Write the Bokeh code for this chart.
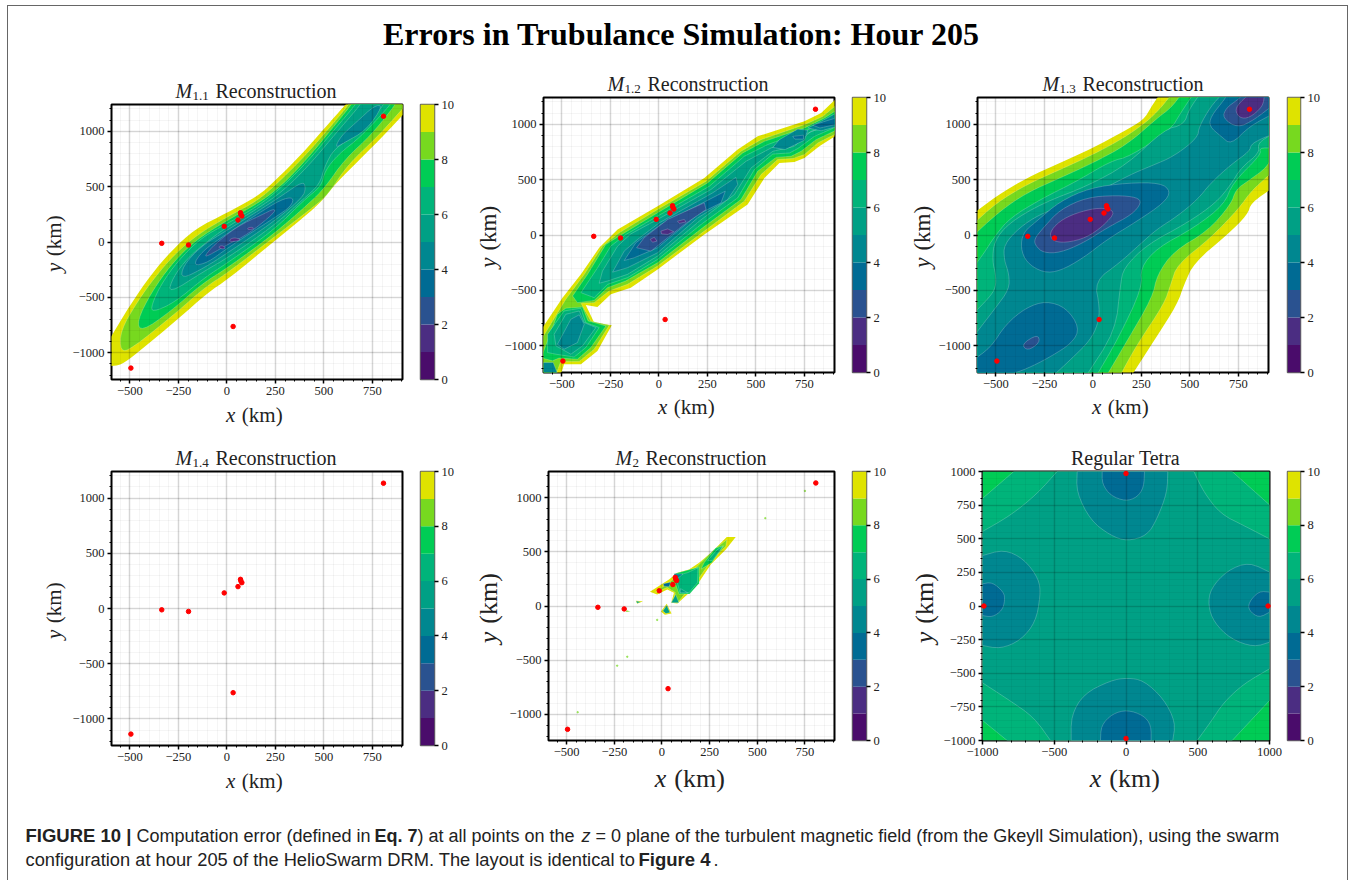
from math import pi
from bokeh.plotting import figure
from bokeh.models import Range1d, FixedTicker, Label, Column, LinearAxis
from bokeh.embed import file_html
from bokeh.resources import INLINE

SUPTITLE = "Errors in Trubulance Simulation: Hour 205"
LEVELS = [0, 1, 2, 3, 4, 5, 6, 7, 8, 9, 10]
BAND_COLORS = ["#4a0c6b", "#4b2d82", "#2a5290", "#006b94", "#008790",
               "#00a085", "#00b47a", "#00cc55", "#77d91f", "#dfe300"]

SWARM_X = [-495, -336, -198, -14, 57, 70, 72, 77, 32, 807]
SWARM_Y = [-1137, -12, -27, 141, 198, 264, 248, 234, -762, 1134]
TETRA_X = [-990, 990, 0, 0]
TETRA_Y = [0, 0, 985, -985]

X_TICKS = [-500, -250, 0, 250, 500, 750]
Y_TICKS = [-1000, -500, 0, 500, 1000]
X_MINOR = list(range(-550, 901, 50))
Y_MINOR = list(range(-1200, 1201, 100))
TETRA_XTICKS = [-1000, -500, 0, 500, 1000]
TETRA_YTICKS = [-1000, -750, -500, -250, 0, 250, 500, 750, 1000]
TETRA_XMINOR = list(range(-1000, 1001, 100))
TETRA_YMINOR = list(range(-1000, 1001, 50))
CB_TICKS = [0, 2, 4, 6, 8, 10]

# ---- M1.1 error contours: region below each level, (x km, y km)
M11_Z10 = [(-600,-861),(-502,-576),(-390,-291),(-287,-81),(-167,114),(0,264),(160,414),(246,549),(384,789),(504,1029),(607,1230),(620,1260),(920,1260),(920,1170),(796,939),(642,669),(556,519),(504,399),(435,279),(246,9),(5,-336),(-98,-456),(-253,-696),(-459,-996),(-545,-1110),(-600,-1119)]
M11_Z9 = [(-549,-801),(-459,-531),(-373,-321),(-270,-111),(-150,69),(0,225),(160,375),(263,534),(401,774),(521,1014),(624,1230),(630,1260),(900,1260),(920,1230),(779,954),(624,699),(521,429),(452,324),(246,48),(5,-276),(-115,-411),(-270,-651),(-494,-966),(-549,-987)]
M11_Z8 = [(-463,-711),(-390,-456),(-287,-201),(-167,9),(0,195),(160,348),(280,504),(418,759),(538,1014),(638,1230),(645,1260),(870,1260),(865,1230),(745,969),(607,744),(504,489),(427,354),(246,78),(5,-231),(-132,-381),(-287,-621),(-442,-810)]
M11_Z7 = [(-387,-561),(-339,-381),(-253,-171),(-132,39),(0,165),(160,324),(280,489),(418,729),(547,999),(659,1230),(665,1260),(845,1260),(839,1230),(693,954),(573,789),(504,639),(487,504),(401,384),(246,114),(5,-186),(-115,-321),(-270,-546),(-387,-636)]
M11_Z6 = [(-304,-471),(-279,-321),(-201,-141),(-98,9),(0,135),(160,303),(289,459),(427,699),(556,969),(685,1230),(690,1260),(810,1260),(805,1230),(685,984),(556,849),(504,684),(478,519),(392,384),(246,153),(5,-141),(-115,-261)]
M11_Z5 = [(-236,-336),(-227,-216),(-132,-36),(0,105),(160,279),(280,414),(392,549),(406,489),(392,405),(246,189),(5,-96),(-115,-231)]
M11_Z5B = [(556,849),(590,960),(670,1085),(760,1230),(805,1230),(720,1010),(600,890)]
M11_Z4 = [(-177,-216),(-127,-81),(0,75),(160,255),(280,384),(344,405),(332,324),(246,219),(5,-51),(-98,-186)]
M11_Z3 = [(-115,-126),(-64,-21),(57,144),(177,243),(246,303),(246,264),(108,69),(5,-21),(-98,-126)]
M11_Z2A = [(-45,-45),(-25,-30),(-5,-55),(-25,-65)]
M11_Z2B = [(15,25),(40,40),(75,20),(40,5),(15,5)]
M11_Z2C = [(105,125),(130,135),(140,120),(110,110)]

# ---- M1.2 error contours
M12_Z10 = [(-600,-835),(-497,-565),(-402,-355),(-308,-115),(-213,50),(-7,260),(234,515),(406,770),(509,890),(750,1025),(836,1100),(920,1240),(920,890),(908,890),(827,800),(750,695),(698,658),(621,650),(544,515),(457,275),(234,5),(-7,-310),(-145,-475),(-248,-535),(-317,-650),(-377,-632),(-334,-790),(-243,-815),(-317,-1045),(-402,-1165),(-489,-1165),(-506,-1260),(-600,-1260)]
M12_Z9 = [(-600,-925),(-480,-580),(-385,-355),(-291,-100),(-205,20),(-7,230),(243,485),(423,755),(526,860),(750,995),(845,1070),(920,1180),(920,920),(819,830),(750,725),(690,690),(612,680),(526,545),(440,305),(234,35),(-7,-280),(-162,-445),(-257,-505),(-334,-610),(-402,-615),(-351,-775),(-256,-815),(-334,-1030),(-411,-1140),(-506,-1140),(-531,-1260),(-600,-1260)]
M12_Z8 = [(-445,-550),(-368,-355),(-274,-85),(-196,0),(-7,200),(251,470),(432,740),(544,845),(750,965),(853,1055),(920,1130),(920,950),(810,860),(733,755),(681,710),(604,700),(509,575),(423,320),(225,65),(-7,-250),(-172,-415),(-265,-475),(-334,-590),(-420,-610)]
M12_Z8B = [(-600,-1075),(-523,-715),(-480,-660),(-394,-650),(-365,-775),(-273,-820),(-351,-1015),(-420,-1120),(-515,-1110),(-549,-1135),(-600,-1110)]
M12_Z7 = [(-402,-520),(-316,-295),(-248,-100),(-170,5),(-7,170),(260,440),(440,710),(560,815),(750,935),(862,1025),(920,1075),(920,980),(802,890),(716,780),(673,740),(587,730),(492,590),(406,335),(217,95),(-7,-220),(-162,-385),(-265,-445),(-334,-565)]
M12_Z7B = [(-574,-895),(-489,-685),(-402,-660),(-377,-790),(-308,-835),(-377,-1015),(-437,-1100),(-531,-1075),(-574,-1060)]
M12_Z6 = [(-308,-435),(-291,-325),(-213,-100),(-145,10),(-7,140),(268,410),(449,665),(578,785),(750,905),(870,995),(920,1030),(920,995),(784,935),(698,800),(587,755),(475,605),(389,365),(208,125),(-7,-190),(-162,-355),(-265,-415)]
M12_Z6B = [(-540,-895),(-480,-715),(-411,-685),(-385,-790),(-325,-835),(-394,-1000),(-454,-1075),(-531,-1000)]
M12_Z5 = [(-239,-335),(-179,-145),(-110,-40),(2,110),(277,380),(397,520),(406,455),(354,320),(200,155),(-7,-160),(-162,-295)]
M12_Z5B = [(-523,-985),(-454,-760),(-411,-720),(-385,-805),(-420,-970),(-489,-1030)]
M12_Z5C = [(587,790),(621,860),(716,955),(767,945),(750,855),(650,770)]
M12_Z5D = [(767,965),(836,1025),(920,1105),(920,980),(836,940)]
M12_Z5E = [(-600,-1150),(-545,-1150),(-520,-1260),(-600,-1260)]
M12_Z4 = [(-179,-230),(-119,-70),(10,95),(342,395),(320,290),(200,185),(-7,-115),(-127,-205)]
M12_Z4B = [(690,890),(745,900),(745,865),(700,865)]
M12_Z4C = [(793,990),(920,1060),(920,1000),(830,965)]
M12_Z3 = [(-115,-115),(-76,-25),(45,140),(234,290),(243,230),(131,95),(-41,-145)]
M12_Z2A = [(-45,-40),(-24,-20),(-10,-55),(-33,-65)]
M12_Z2B = [(10,35),(45,55),(76,30),(45,5),(14,10)]
M12_Z2C = [(96,125),(131,140),(139,118),(105,105)]

# ---- M1.3 error contours
M13_Z10 = [(-620,190),(-497,350),(-342,515),(-169,650),(0,785),(159,935),(262,1040),(297,1145),(340,1260),(920,1260),(920,415),(815,290),(798,185),(694,5),(522,-250),(470,-445),(435,-625),(314,-955),(202,-1260),(-620,-1260)]
M13_Z9 = [(-620,95),(-497,290),(-342,455),(-169,590),(0,725),(159,875),(280,1025),(349,1145),(401,1260),(920,1260),(920,560),(815,395),(755,245),(608,-25),(435,-265),(401,-445),(366,-625),(228,-985),(142,-1260),(-620,-1260)]
M13_Z8 = [(-620,-10),(-480,215),(-342,380),(-169,515),(0,650),(176,815),(332,1055),(401,1145),(452,1260),(920,1260),(920,695),(893,605),(798,485),(737,410),(711,275),(591,35),(418,-145),(332,-355),(306,-565),(176,-955),(73,-1260),(-620,-1260)]
M13_Z7 = [(-620,-300),(-560,-160),(-510,-20),(-428,155),(-256,335),(-83,485),(90,665),(193,710),(401,950),(452,1100),(513,1260),(920,1260),(920,785),(858,785),(867,725),(720,470),(677,275),(522,65),(332,-115),(245,-295),(254,-475),(133,-925),(21,-1260),(-620,-1260)]
M13_Z6 = [(-620,-715),(-535,-565),(-501,-475),(-501,-355),(-518,-235),(-509,-55),(-432,110),(-256,290),(-31,440),(176,635),(366,950),(469,995),(495,1130),(547,1260),(920,1260),(920,905),(850,830),(858,740),(763,605),(711,455),(634,290),(487,110),(280,-85),(159,-295),(142,-445),(116,-865),(-31,-1260),(-620,-1260)]
M13_Z5 = [(-620,-925),(-501,-655),(-432,-490),(-432,-355),(-458,-220),(-458,-85),(-380,65),(-276,185),(-155,260),(-17,350),(193,545),(297,620),(418,710),(539,875),(548,980),(608,1160),(660,1260),(920,1260),(920,905),(858,860),(815,815),(807,755),(712,635),(608,470),(539,320),(435,170),(328,50),(242,-85),(138,-250),(9,-415),(35,-655),(26,-805),(-17,-955),(-104,-1105),(-199,-1260),(-620,-1260)]
M13_Z4 = [(-373,-115),(-359,25),(-290,125),(-169,305),(-14,425),(176,470),(349,470),(401,395),(366,290),(228,125),(73,-40),(-48,-205),(-169,-325),(-256,-340),(-342,-250)]
M13_Z4B = [(-620,-1130),(-527,-1015),(-449,-805),(-345,-655),(-242,-595),(-138,-655),(-69,-835),(-104,-970),(-225,-1105),(-345,-1210),(-432,-1260),(-620,-1260)]
M13_Z4C = [(600,980),(608,1070),(677,1220),(690,1260),(920,1260),(920,1085),(807,980),(712,815),(660,890)]
M13_Z3 = [(-304,-40),(-256,65),(-169,230),(-31,340),(124,358),(228,340),(250,290),(202,185),(73,65),(-48,-70),(-169,-160),(-256,-160),(-294,-100)]
M13_Z3B = [(-368,-985),(-285,-895),(-273,-970),(-337,-1045)]
M13_Z3C = [(668,1055),(686,1145),(746,1220),(770,1260),(920,1260),(920,1160),(832,1040),(746,965)]
M13_Z2 = [(-225,20),(-173,125),(-86,200),(35,250),(121,215),(52,80),(-35,-25),(-138,-70),(-207,-55)]
M13_Z2B = [(732,1130),(763,1205),(800,1260),(884,1260),(876,1160),(807,1055),(755,1055)]

# ---- M2 error contours
M2_Z10 = [(-63,131),(37,245),(81,306),(142,336),(195,398),(256,489),(340,636),(387,636),(335,520),(256,382),(186,199),(133,107),(81,24),(49,31),(63,122),(28,153),(-25,107)]
M2_Z10B = [(-137,49),(-100,43),(-130,21)]
M2_Z10C = [(25,20),(50,-70),(15,-80),(-5,-50)]
M2_Z9 = [(-33,128),(46,229),(98,291),(168,336),(212,413),(273,520),(340,611),(335,550),(256,413),(177,214),(124,122),(89,46),(60,40),(70,125),(28,170)]
M2_Z9B = [(-185,-40),(-165,-50),(-190,-55)]
M2_Z8 = [(221,398),(282,535),(323,556),(262,400),(205,340)]
M2_Z8B = [(70,300),(195,360),(195,210),(145,110),(90,110),(70,210)]
M2_Z7 = [(63,275),(133,306),(189,352),(186,214),(142,122),(95,122),(81,214)]
M2_Z7B = [(240,420),(290,520),(320,550),(265,420)]
M2_Z6 = [(49,31),(72,107),(89,31)]
M2_Z6B = [(25,6),(42,-61),(21,-70),(5,-46)]
M2_Z6C = [(-135,45),(-112,38),(-130,25)]
M2_Z6D = [(98,160),(95,122),(135,122)]
M2_Z5 = [(63,297),(110,295),(70,235)]
M2_Z4 = [(7,205),(46,220),(37,177),(10,183)]
M2_SPECK_X = [-25, 542, 750, -442, -182, -235]
M2_SPECK_Y = [-128, 810, 1061, -979, -468, -550]

# ---- Regular tetra error contours
TETRA_Z7 = [(-1000,800),(-782,1000),(740,1000),(1000,752),(1000,-703),(740,-1000),(-828,-1000),(-1000,-851)]
TETRA_Z6 = [(-1000,554),(-805,673),(-619,834),(-480,1000),(473,1000),(542,846),(658,685),(821,598),(1000,499),(1000,-467),(821,-578),(682,-715),(589,-864),(496,-1000),(-526,-1000),(-642,-826),(-828,-690),(-1000,-571)]
TETRA_Z5A = [(-340,1000),(-345,846),(-247,636),(-108,524),(8,482),(147,524),(217,648),(287,846),(291,1000)]
TETRA_Z5B = [(-1000,375),(-851,420),(-712,351),(-607,202),(-596,78),(-630,-120),(-735,-256),(-875,-318),(-1000,-294)]
TETRA_Z5C = [(1000,252),(856,326),(705,264),(589,128),(573,4),(612,-120),(728,-244),(891,-306),(1000,-269)]
TETRA_Z5D = [(-382,-1000),(-382,-814),(-294,-653),(-108,-554),(8,-534),(124,-554),(263,-690),(345,-864),(326,-1000)]
TETRA_Z4A = [(-166,1000),(-166,908),(-108,821),(-3,779),(78,809),(124,883),(129,1000)]
TETRA_Z4B = [(-1000,165),(-932,177),(-851,103),(-844,41),(-863,-33),(-932,-83),(-1000,-71)]
TETRA_Z4C = [(1000,103),(926,110),(856,28),(856,-33),(926,-88),(1000,-46)]
TETRA_Z4D = [(-178,-1000),(-173,-888),(-96,-802),(8,-772),(124,-814),(175,-888),(175,-1000)]
TETRA_Z8 = [(-1000,1000),(1000,1000),(1000,-1000),(-1000,-1000)]

M11 = [(10,[M11_Z10]),(9,[M11_Z9]),(8,[M11_Z8]),(7,[M11_Z7]),(6,[M11_Z6]),(5,[M11_Z5,M11_Z5B]),(4,[M11_Z4]),(3,[M11_Z3]),(2,[M11_Z2A,M11_Z2B,M11_Z2C])]
M12 = [(10,[M12_Z10]),(9,[M12_Z9]),(8,[M12_Z8,M12_Z8B]),(7,[M12_Z7,M12_Z7B]),(6,[M12_Z6,M12_Z6B]),(5,[M12_Z5,M12_Z5B,M12_Z5C,M12_Z5D,M12_Z5E]),(4,[M12_Z4,M12_Z4B,M12_Z4C]),(3,[M12_Z3]),(2,[M12_Z2A,M12_Z2B,M12_Z2C])]
M13 = [(10,[M13_Z10]),(9,[M13_Z9]),(8,[M13_Z8]),(7,[M13_Z7]),(6,[M13_Z6]),(5,[M13_Z5]),(4,[M13_Z4,M13_Z4B,M13_Z4C]),(3,[M13_Z3,M13_Z3B,M13_Z3C]),(2,[M13_Z2,M13_Z2B])]
M14 = []
M2 = [(10,[M2_Z10,M2_Z10B,M2_Z10C]),(9,[M2_Z9,M2_Z9B]),(8,[M2_Z8,M2_Z8B]),(7,[M2_Z7,M2_Z7B]),(6,[M2_Z6,M2_Z6B,M2_Z6C,M2_Z6D]),(5,[M2_Z5]),(4,[M2_Z4])]
TETRA = [(8,[TETRA_Z8]),(7,[TETRA_Z7]),(6,[TETRA_Z6]),(5,[TETRA_Z5A,TETRA_Z5B,TETRA_Z5C,TETRA_Z5D]),(4,[TETRA_Z4A,TETRA_Z4B,TETRA_Z4C,TETRA_Z4D])]

SERIF = "Liberation Serif"
SANS = "Liberation Sans"
TXT = "#222222"
PAGE_X, PAGE_Y = 7, 5
PAGE_W, PAGE_H = 1341, 875
L, R, T, B = 48, 34, 6, 26

bg = figure(width=PAGE_W, height=PAGE_H, x_range=Range1d(0, PAGE_W), y_range=Range1d(PAGE_H, 0),
            output_backend="svg", toolbar_location=None, x_axis_type=None, y_axis_type=None, title=None,
            min_border=0, outline_line_color=None)
bg.xgrid.visible = False
bg.ygrid.visible = False
bg.styles = {"position": "absolute", "left": f"{PAGE_X}px", "top": f"{PAGE_Y}px",
             "border-top": "1px solid #666666", "border-left": "1px solid #666666", "border-right": "1px solid #666666"}


def put(px, cy, text, size, font=SERIF, style="normal", align="left", angle=0.0, color=TXT):
    bg.add_layout(Label(x=px - PAGE_X - 1, y=cy - PAGE_Y - 1, text=text, text_font=font, text_font_size=f"{size}px",
                        text_font_style=style, text_align=align, text_baseline="middle",
                        angle=angle, text_color=color))


def panel_title(cx, cy, sub):
    if sub is None:
        put(cx, cy, "Regular Tetra", 20, align="center")
        return
    sub_w = {"1.1": 17, "1.2": 17, "1.3": 17, "1.4": 17, "2": 7}[sub]
    total = 17 + sub_w + 6 + 122
    left = cx - total / 2
    put(left, cy, "M", 20, style="italic")
    put(left + 17, cy + 5, sub, 13)
    put(left + 17 + sub_w + 6, cy, "Reconstruction", 20)


def axis_labels(xcx, xcy, ycx, ycy, xs, ys):
    put(xcx - 1.45 * xs, xcy, "x", xs, style="italic")
    put(xcx - 0.7 * xs, xcy, "(km)", xs)
    put(ycx, ycy + 1.45 * ys, "y", ys, style="italic", angle=pi / 2)
    put(ycx, ycy + 0.7 * ys, "(km)", ys, angle=pi / 2)


def minus(ticks):
    return {t: str(t).replace("-", "\u2212") for t in ticks if t < 0}


def style_axis(ax, ticks, minor, size="12.5px"):
    ax.ticker = FixedTicker(ticks=ticks, minor_ticks=minor)
    ax.major_label_overrides = minus(ticks)
    ax.major_label_text_font = SERIF
    ax.major_label_text_font_size = size
    ax.major_label_text_color = TXT
    ax.major_label_standoff = 3
    ax.axis_line_color = None
    ax.major_tick_in = 0
    ax.major_tick_out = 4
    ax.major_tick_line_width = 1.5
    ax.major_tick_line_color = "black"
    ax.minor_tick_in = 0
    ax.minor_tick_out = 2
    ax.minor_tick_line_width = 1
    ax.minor_tick_line_color = "black"


def round_outline(poly, xr, yr, passes):
    """Round the corners of an outline; vertices on or beyond the frame stay where they are."""
    for _ in range(passes):
        out = []
        n = len(poly)
        for i, (x, y) in enumerate(poly):
            if x <= xr[0] or x >= xr[1] or y <= yr[0] or y >= yr[1]:
                out.append((x, y))
                continue
            xa, ya = poly[i - 1]
            xb, yb = poly[(i + 1) % n]
            out.append((0.75 * x + 0.25 * xa, 0.75 * y + 0.25 * ya))
            out.append((0.75 * x + 0.25 * xb, 0.75 * y + 0.25 * yb))
        poly = out
    return poly


def panel(fl, fr, ft, fb, xr, yr, bands, sx, sy, xticks, yticks, xminor, yminor, passes=0):
    fw, fh = round(fr - fl), round(fb - ft)
    p = figure(width=L + fw + R, height=T + fh + B, x_range=Range1d(*xr), y_range=Range1d(*yr),
               output_backend="svg", toolbar_location=None, title=None,
               min_border_left=L, min_border_right=R, min_border_top=T, min_border_bottom=B,
               border_fill_alpha=0, outline_line_color="black", outline_line_width=2)
    p.styles = {"position": "absolute", "left": f"{round(fl) - L}px", "top": f"{round(ft) - T}px"}
    for lev, polys in bands:
        col = BAND_COLORS[LEVELS.index(lev) - 1]
        for poly in polys:
            poly = round_outline(poly, xr, yr, passes)
            p.patch([q[0] for q in poly], [q[1] for q in poly], fill_color=col,
                    line_color="#ffffff" if lev < 10 else col, line_alpha=0.3 if lev < 10 else 0.0, line_width=0.7)
    style_axis(p.xaxis[0], xticks, xminor)
    style_axis(p.yaxis[0], yticks, yminor)
    for g in (p.xgrid[0], p.ygrid[0]):
        g.level = "guide"
        g.grid_line_color = "black"
        g.grid_line_alpha = 0.13
        g.grid_line_width = 1.6
        g.minor_grid_line_color = "black"
        g.minor_grid_line_alpha = 0.04
        g.minor_grid_line_width = 1
    p.scatter(sx, sy, size=4.5, color="#ff0000", line_color="#ff0000", level="annotation")
    return p


def colorbar(cl, cr, ft, fb):
    cw, fh = round(cr - cl), round(fb - ft)
    c = figure(width=L + cw + R, height=T + fh + B, x_range=Range1d(0, 1), y_range=Range1d(0, 10),
               output_backend="svg", toolbar_location=None, x_axis_type=None, y_axis_type=None, title=None,
               min_border_left=L, min_border_right=R, min_border_top=T, min_border_bottom=B,
               border_fill_alpha=0, outline_line_color="#666666", outline_line_width=1.5)
    c.styles = {"position": "absolute", "left": f"{round(cl) - L}px", "top": f"{round(ft) - T}px"}
    c.xgrid.visible = False
    c.ygrid.visible = False
    c.quad(left=0, right=1, bottom=LEVELS[:-1], top=LEVELS[1:], fill_color=BAND_COLORS, line_color=None)
    ax = LinearAxis()
    style_axis(ax, CB_TICKS, [])
    c.add_layout(ax, "right")
    return c


XR = (-595, 905)
YR = (-1240, 1240)
panels = [
    panel(111, 402, 104, 379, XR, YR, M11, SWARM_X, SWARM_Y, X_TICKS, Y_TICKS, X_MINOR, Y_MINOR, passes=2),
    panel(543, 834, 97, 372, XR, YR, M12, SWARM_X, SWARM_Y, X_TICKS, Y_TICKS, X_MINOR, Y_MINOR),
    panel(977, 1268, 97, 372, XR, YR, M13, SWARM_X, SWARM_Y, X_TICKS, Y_TICKS, X_MINOR, Y_MINOR, passes=2),
    panel(111, 402, 471, 745, XR, YR, M14, SWARM_X, SWARM_Y, X_TICKS, Y_TICKS, X_MINOR, Y_MINOR),
    panel(548, 834, 471, 740, XR, YR, M2, SWARM_X, SWARM_Y, X_TICKS, Y_TICKS, X_MINOR, Y_MINOR),
    panel(982, 1269, 471, 740, (-1000, 1000), (-1000, 1000), TETRA, TETRA_X, TETRA_Y, TETRA_XTICKS, TETRA_YTICKS, TETRA_XMINOR, TETRA_YMINOR, passes=2),
]
panels[4].scatter(M2_SPECK_X, M2_SPECK_Y, size=1.5, color=BAND_COLORS[8], alpha=0.6, level="glyph")
bars = [colorbar(420, 434, 104, 379), colorbar(852, 866, 97, 372), colorbar(1287, 1300, 97, 372),
        colorbar(420, 434, 471, 745), colorbar(852, 866, 471, 740), colorbar(1287, 1300, 471, 740)]

put(681, 33, SUPTITLE, 32, style="bold", align="center", color="black")
panel_title(256, 90, "1.1")
panel_title(688, 83, "1.2")
panel_title(1123, 83, "1.3")
panel_title(256, 457, "1.4")
panel_title(691, 457, "2")
panel_title(1125, 457, None)
axis_labels(256, 414, 53, 241, 21, 21)
axis_labels(688, 406, 488, 234, 21, 23)
axis_labels(1122, 406, 922, 234, 21, 23)
axis_labels(256, 780, 53, 608, 21, 21)
axis_labels(692, 778, 488, 605, 26, 26)
axis_labels(1127, 778, 924, 605, 26, 26)

CAP = 18
put(25, 835, "FIGURE 10 |", 18.5, font=SANS, style="bold")
put(136, 835, "Computation error (defined in", CAP, font=SANS)
put(374, 835, "Eq. 7", CAP, font=SANS, style="bold")
put(417, 835, ") at all points on the", CAP, font=SANS)
put(581, 835, "z", CAP, font=SANS, style="italic")
put(595, 835, "= 0 plane of the turbulent magnetic field (from the Gkeyll Simulation), using the swarm", CAP, font=SANS)
put(25, 859, "configuration at hour 205 of the HelioSwarm DRM. The layout is identical to", 18.3, font=SANS)
put(638, 859, "Figure 4", 18.5, font=SANS, style="bold")
put(713, 859, ".", CAP, font=SANS)

root = Column(children=panels + bars, width=PAGE_W, height=PAGE_H - 10, sizing_mode="fixed")

open("out.html", "w").write(file_html([bg, root], INLINE))
